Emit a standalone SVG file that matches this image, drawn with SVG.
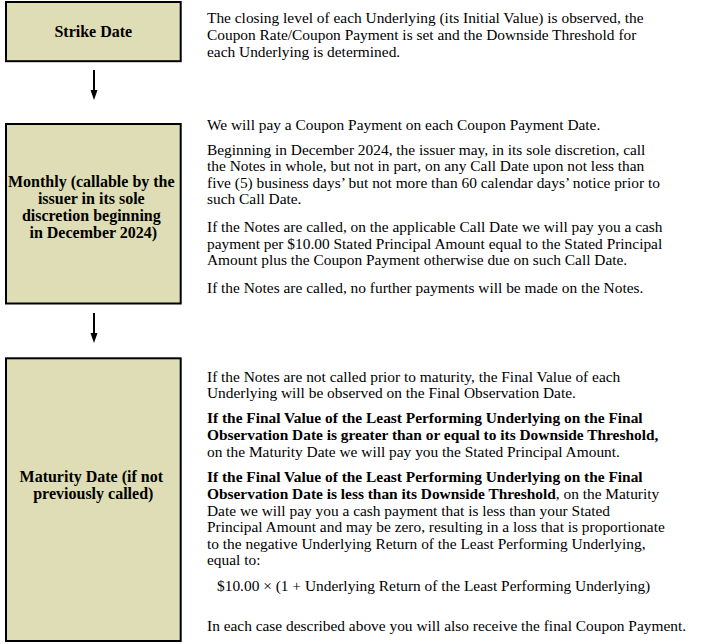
<svg xmlns="http://www.w3.org/2000/svg" width="704" height="644" viewBox="0 0 704 644">
<style>
.box{fill:#DEDDB5;stroke:#000;stroke-width:2}
.lbl{font-family:"Liberation Serif","Times New Roman",serif;font-size:16px;font-weight:bold;fill:#000;text-anchor:middle}
.txt{font-family:"Liberation Serif","Times New Roman",serif;font-size:15.4px;fill:#000}
.b{font-weight:bold}
.arrow{stroke:#000;stroke-width:2;fill:none}
</style>
<defs>
<marker id="ah" markerWidth="6" markerHeight="10" refX="3" refY="10" orient="auto" markerUnits="userSpaceOnUse" viewBox="0 0 6 10">
<path d="M0,0 L6,0 L3,10 Z" fill="#000" transform="rotate(-90 3 5) translate(-2 2)"/>
</marker>
</defs>
<rect width="704" height="644" fill="#fff"/>
<g id="connectors">
<line x1="94" y1="70" x2="94" y2="91" class="arrow"/>
<polygon points="90.5,90 97.5,90 94,100" fill="#000"/>
<line x1="94" y1="313" x2="94" y2="334" class="arrow"/>
<polygon points="90.5,333 97.5,333 94,343" fill="#000"/>
</g>
<g id="node-strike">
<rect class="box" x="6" y="2" width="174.7" height="59.2"/>
<text class="lbl" x="93.3" y="36.5">Strike Date</text>
<text class="txt" x="207">
<tspan x="207" y="23.3">The closing level of each Underlying (its Initial Value) is observed, the</tspan>
<tspan x="207" y="40">Coupon Rate/Coupon Payment is set and the Downside Threshold for</tspan>
<tspan x="207" y="56.7">each Underlying is determined.</tspan>
</text>
</g>
<g id="node-monthly">
<rect class="box" x="6" y="124" width="174.7" height="179.5"/>
<text class="lbl">
<tspan x="93.3" y="186.5">Monthly (callable by the</tspan>
<tspan x="93.3" y="203.8">issuer in its sole</tspan>
<tspan x="93.3" y="221.1">discretion beginning</tspan>
<tspan x="93.3" y="238.4">in December 2024)</tspan>
</text>
<text class="txt">
<tspan x="207" y="130">We will pay a Coupon Payment on each Coupon Payment Date.</tspan>
<tspan x="207" y="154.5">Beginning in December 2024, the issuer may, in its sole discretion, call</tspan>
<tspan x="207" y="171">the Notes in whole, but not in part, on any Call Date upon not less than</tspan>
<tspan x="207" y="187.5">five (5) business days’ but not more than 60 calendar days’ notice prior to</tspan>
<tspan x="207" y="204">such Call Date.</tspan>
<tspan x="207" y="232">If the Notes are called, on the applicable Call Date we will pay you a cash</tspan>
<tspan x="207" y="248.5">payment per $10.00 Stated Principal Amount equal to the Stated Principal</tspan>
<tspan x="207" y="265">Amount plus the Coupon Payment otherwise due on such Call Date.</tspan>
<tspan x="207" y="292.5">If the Notes are called, no further payments will be made on the Notes.</tspan>
</text>
</g>
<g id="node-maturity">
<rect class="box" x="6" y="358.3" width="174.7" height="282.7"/>
<text class="lbl">
<tspan x="93.3" y="482">Maturity Date (if not</tspan>
<tspan x="93.3" y="499">previously called)</tspan>
</text>
<text class="txt">
<tspan x="207" y="381.5">If the Notes are not called prior to maturity, the Final Value of each</tspan>
<tspan x="207" y="398">Underlying will be observed on the Final Observation Date.</tspan>
<tspan x="207" y="423" class="b">If the Final Value of the Least Performing Underlying on the Final</tspan>
<tspan x="207" y="440" class="b">Observation Date is greater than or equal to its Downside Threshold,</tspan>
<tspan x="207" y="456.5">on the Maturity Date we will pay you the Stated Principal Amount.</tspan>
<tspan x="207" y="482" class="b">If the Final Value of the Least Performing Underlying on the Final</tspan>
<tspan x="207" y="499" class="b">Observation Date is less than its Downside Threshold</tspan><tspan>, on the Maturity</tspan>
<tspan x="207" y="515.5">Date we will pay you a cash payment that is less than your Stated</tspan>
<tspan x="207" y="532">Principal Amount and may be zero, resulting in a loss that is proportionate</tspan>
<tspan x="207" y="548.5">to the negative Underlying Return of the Least Performing Underlying,</tspan>
<tspan x="207" y="565">equal to:</tspan>
<tspan x="217" y="591">$10.00 × (1 + Underlying Return of the Least Performing Underlying)</tspan>
<tspan x="207" y="631">In each case described above you will also receive the final Coupon Payment.</tspan>
</text>
</g>
</svg>
